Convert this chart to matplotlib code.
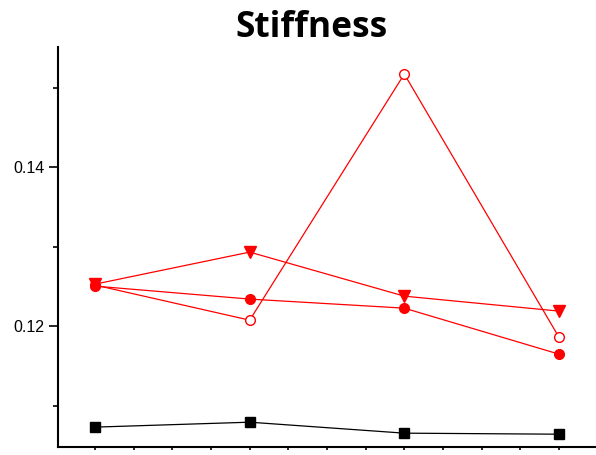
import matplotlib
matplotlib.use("Agg")
import matplotlib.pyplot as plt
from matplotlib.ticker import FixedLocator

# Sample positions along the x axis
positions = [1, 2, 3, 4]

# Stiffness values per series
black_squares = [0.10730, 0.10792, 0.10654, 0.10641]
red_open_circles = [0.12516, 0.12075, 0.15170, 0.11862]
red_filled_circles = [0.12503, 0.12340, 0.12226, 0.11648]
red_down_triangles = [0.12528, 0.12931, 0.12377, 0.12189]

y_tick_labels = ["0.12", "0.14"]
y_tick_values = [0.12, 0.14]

fig = plt.figure(figsize=(5.96, 4.55), dpi=100)
ax = fig.add_axes([58 / 596, 1 - 447 / 455, 1 - 58 / 596, (447 - 47) / 455])

ax.plot(positions, black_squares, color="black", lw=0.9, marker="s", ms=6.5,
        mfc="black", mec="black")
ax.plot(positions, red_open_circles, color="red", lw=0.9, marker="o", ms=7,
        mfc="white", mec="red", mew=1.0)
ax.plot(positions, red_down_triangles, color="red", lw=0.9, marker="v", ms=8,
        mfc="red", mec="red")
ax.plot(positions, red_filled_circles, color="red", lw=0.9, marker="o", ms=7,
        mfc="red", mec="red")

ax.set_xlim(0.76, 4.24)
ax.set_ylim(0.1048, 0.1551)

for side in ("top", "right"):
    ax.spines[side].set_visible(False)
for side in ("left", "bottom"):
    ax.spines[side].set_linewidth(1.5)

ax.xaxis.set_major_locator(FixedLocator([1 + 0.25 * i for i in range(13)]))
ax.xaxis.set_ticklabels([])
ax.tick_params(axis="x", which="major", direction="out", length=2.5, width=1.2)

ax.yaxis.set_major_locator(FixedLocator(y_tick_values))
ax.set_yticklabels(y_tick_labels)
ax.yaxis.set_minor_locator(FixedLocator([0.11, 0.13, 0.15]))
ax.tick_params(axis="y", which="major", direction="out", length=6.5, width=1.2,
               pad=3, labelsize=11.5)
ax.tick_params(axis="y", which="minor", direction="out", length=3.5, width=1.2)
for lbl in ax.get_yticklabels():
    lbl.set_fontfamily("Liberation Sans")

fig.text(312 / 596, 1 - 28 / 455, "Stiffness", ha="center", va="center",
         fontsize=25.5, fontweight="bold", family="Open Sans")

fig.savefig("out.png", dpi=100)
